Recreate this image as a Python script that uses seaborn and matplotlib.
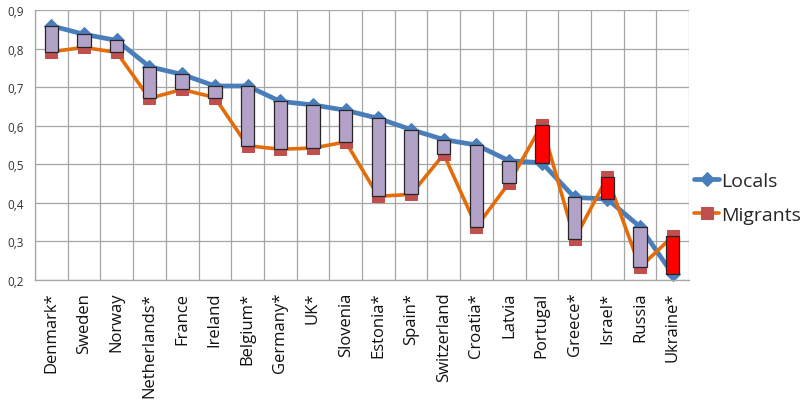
import numpy as np
import pandas as pd
import matplotlib
matplotlib.use("Agg")
import matplotlib.pyplot as plt
import seaborn as sns

countries = ["Denmark*", "Sweden", "Norway", "Netherlands*", "France", "Ireland",
             "Belgium*", "Germany*", "UK*", "Slovenia", "Estonia*", "Spain*",
             "Switzerland", "Croatia*", "Latvia", "Portugal", "Greece*", "Israel*",
             "Russia", "Ukraine*"]
locals_vals = [0.859, 0.837, 0.821, 0.753, 0.733, 0.703, 0.703, 0.663, 0.654, 0.640,
               0.619, 0.590, 0.564, 0.550, 0.509, 0.504, 0.414, 0.410, 0.338, 0.215]
migrants_vals = [0.792, 0.803, 0.790, 0.671, 0.694, 0.673, 0.548, 0.539, 0.542, 0.558,
                 0.417, 0.422, 0.526, 0.338, 0.452, 0.602, 0.306, 0.466, 0.233, 0.313]
y_ticks = [0.2, 0.3, 0.4, 0.5, 0.6, 0.7, 0.8, 0.9]

sns.set_style("white")
plt.rcParams["font.family"] = ["Open Sans", "DejaVu Sans"]

df = pd.DataFrame({"pos": np.arange(len(countries)),
                   "Locals": locals_vals, "Migrants": migrants_vals})

fig = plt.figure(figsize=(8.06, 4.02), dpi=100)
ax = fig.add_axes([35 / 806, 1 - 281 / 402, (689 - 35) / 806, (281 - 11) / 402])

grid_c = "#a6a6a6"

# series lines with markers (drawn beneath the up/down bars)
sns.lineplot(data=df, x="pos", y="Locals", ax=ax, color="#4A7EBB", linewidth=3.4,
             marker="D", markersize=7.5, markeredgecolor="#4A7EBB",
             label="Locals", zorder=2, clip_on=False)
sns.lineplot(data=df, x="pos", y="Migrants", ax=ax, color="#E46C0A", linewidth=2.6,
             marker="s", markersize=8.5, markerfacecolor="#C0504D",
             markeredgecolor="#C0504D", label="Migrants", zorder=2, clip_on=False)

# up/down bars between the two series
loc = df["Locals"].to_numpy()
mig = df["Migrants"].to_numpy()
bottoms = np.minimum(loc, mig)
heights = np.abs(loc - mig)
colors = np.where(mig > loc, "#FF0000", "#B3A2C7")
ax.bar(df["pos"], heights, bottom=bottoms, width=0.41, color=colors,
       edgecolor="#262626", linewidth=0.9, zorder=3)

# axes, grid and ticks
n = len(countries)
ax.set_xlim(-0.5, n - 0.5)
ax.set_ylim(0.2, 0.9)
ax.set_xticks(np.arange(-0.5, n, 1))
ax.set_xticklabels([])
ax.set_xticks(np.arange(n), minor=True)
ax.set_xticklabels(countries, minor=True, rotation=90, fontsize=12, color="#111111")
ax.set_yticks(y_ticks)
ax.set_yticklabels([f"{v:.1f}".replace(".", ",") for v in y_ticks], fontsize=8.5,
                   color="#333333")
ax.tick_params(axis="x", which="major", length=5, color=grid_c, direction="out")
ax.tick_params(axis="x", which="minor", length=0, pad=8.5)
ax.tick_params(axis="y", which="major", length=5, color=grid_c, direction="out", pad=3)
ax.grid(True, which="major", color=grid_c, linewidth=0.9)
ax.set_axisbelow(True)
ax.set_xlabel("")
ax.set_ylabel("")
for side in ["top", "right"]:
    ax.spines[side].set_visible(False)
for side in ["left", "bottom"]:
    ax.spines[side].set_color(grid_c)
    ax.spines[side].set_linewidth(0.9)

ax.legend(loc="center left", bbox_to_anchor=(690 / 806, 1 - 199 / 402),
          bbox_transform=fig.transFigure, frameon=False, fontsize=14,
          handlelength=1.3, handletextpad=0.1, labelspacing=0.85,
          borderaxespad=0, borderpad=0.2)

fig.savefig("out.png", dpi=100)
